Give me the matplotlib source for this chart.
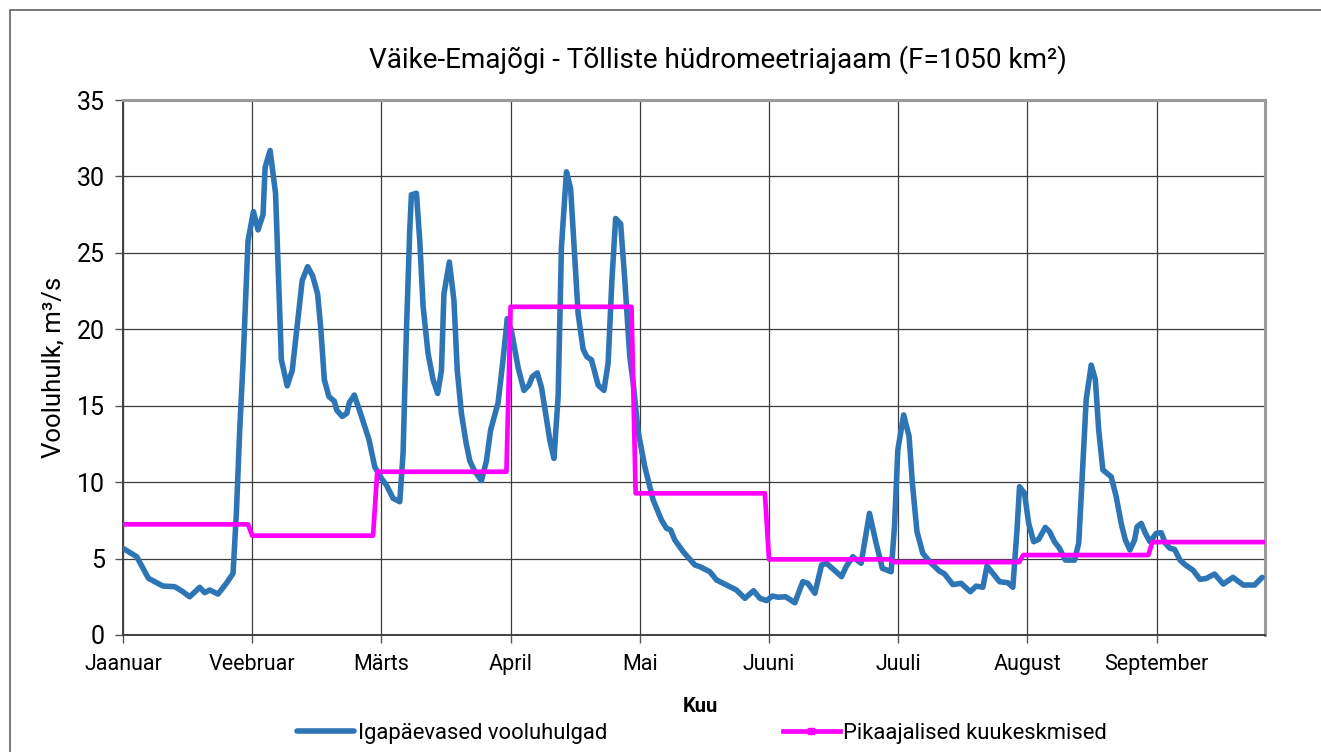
import matplotlib
matplotlib.use("Agg")
import matplotlib.pyplot as plt
from matplotlib.patches import Rectangle
from matplotlib.lines import Line2D

plt.rcParams['font.family'] = ['Roboto', 'DejaVu Sans']

# ---- data ----
month_labels = ["Jaanuar", "Veebruar", "Märts", "April", "Mai", "Juuni", "Juuli", "August", "September"]
month_ticks = [0, 31, 62, 93, 124, 155, 186, 217, 248]
x_end = 274

# long-term monthly means (start index of each month on the chart, value)
mean_starts = [0, 31, 61, 93, 123, 155, 185, 216, 247]
mean_values = [7.24, 6.50, 10.68, 21.47, 9.27, 4.95, 4.77, 5.23, 6.08]

# daily discharge
daily_x = [0, 3.3, 6.1, 9.6, 12.4, 14.4, 16, 18.4, 19.6, 20.8, 22.8, 24.8, 26.4, 27.2, 28, 28.8,
           30, 31.3, 32.4, 33.6, 34.1, 35.3, 36.6, 38, 39.4, 40.6, 43, 44.3, 45.5, 46.7, 47.5,
           48.3, 49.4, 50.7, 51.3, 52.6, 53.7, 54.3, 55.5, 57.1, 59, 60.4, 62, 63.2, 64.8, 66.4,
           67.2, 68, 68.8, 69.2, 70.4, 71.2, 72, 73.2, 74.4, 75.5, 76.4, 77, 78.3, 79.4, 80.2,
           81.2, 82.3, 83.2, 84.4, 86, 87.2, 88.2, 90, 91.1, 92.2, 93.2, 94.8, 96.2, 97.4, 98.2,
           99.4, 100.4, 101.4, 102.4, 103.4, 104.4, 105.2, 106.4, 107.4, 108.4, 109.2, 110.4,
           111.3, 112.4, 114, 115.4, 116.4, 117.3, 118.2, 119.4, 120.4, 121.6, 122.4, 123.6,
           125.2, 127.2, 129.2, 130.4, 131.4, 132.4, 134.4, 137.2, 138.4, 140.8, 142.4, 144.8,
           147.2, 149.2, 151.3, 152.8, 154.4, 155.8, 157.2, 159, 161.2, 163.1, 164.3, 166,
           167.6, 168.8, 172.4, 173.5, 175.1, 177.1, 179.1, 180.7, 182.2, 184.3, 185.1, 185.9,
           187.3, 188.6, 189.4, 190.5, 191.9, 193.9, 195.9, 197.1, 199.1, 201.1, 203.3, 204.7,
           206.3, 207.3, 208.7, 210.3, 212.3, 213.5, 214.5, 215.1, 216.3, 217.3, 218.5, 219.7,
           221.3, 222.3, 223.5, 224.7, 226.1, 228.3, 229.3, 229.9, 231.1, 232.3, 233.3, 234.1,
           235.1, 237.1, 238.3, 239.5, 240.5, 241.6, 242.7, 243.3, 244.3, 245.3, 246.4, 247.9,
           249.1, 250.1, 251.2, 252.3, 253.6, 254.9, 256.7, 258.4, 259.9, 261.9, 264, 266.3,
           268.8, 271.5, 273.3]
daily_q = [5.67, 5.12, 3.71, 3.2, 3.16, 2.83, 2.5, 3.12, 2.77, 2.94, 2.68, 3.38, 4.03, 7.96, 13.4, 17.8,
           25.8, 27.7, 26.5, 27.5, 30.6, 31.7, 28.9, 18.0, 16.3, 17.3, 23.2, 24.1, 23.5, 22.3, 19.9,
           16.7, 15.6, 15.3, 14.7, 14.3, 14.5, 15.2, 15.7, 14.4, 12.8, 11.0, 10.25, 9.81, 8.94, 8.72,
           11.9, 19.9, 26.5, 28.8, 28.9, 25.8, 21.5, 18.4, 16.7, 15.8, 17.3, 22.3, 24.4, 21.9, 17.3,
           14.5, 12.6, 11.4, 10.7, 10.1, 11.4, 13.4, 15.2, 17.8, 20.7, 19.9, 17.5, 16.0, 16.35, 16.9,
           17.15, 16.2, 14.5, 12.75, 11.55, 15.6, 25.4, 30.3, 29.2, 24.7, 21.0, 18.7,
           18.2, 18.0, 16.35, 16.0, 17.8, 23.2, 27.25, 26.9, 23.2, 18.2, 16.5, 13.3,
           11.0, 8.83, 7.52, 6.98, 6.87, 6.21, 5.45, 4.58, 4.47, 4.14, 3.6, 3.27,
           2.94, 2.4, 2.9, 2.4, 2.25, 2.55, 2.47, 2.5, 2.11, 3.49, 3.38, 2.73,
           4.58, 4.69, 3.82, 4.47, 5.12, 4.69, 7.96, 6.0, 4.36, 4.14, 7.08, 12.1,
           14.4, 13.0, 9.92, 6.76, 5.34, 4.69, 4.18, 4.0, 3.3, 3.38, 2.83, 3.2,
           3.12, 4.51, 4.03, 3.49, 3.42, 3.12, 6.87, 9.7, 9.27, 7.3, 6.1, 6.26,
           7.04, 6.76, 6.1, 5.67, 4.9, 4.9, 6.0, 9.05, 15.4, 17.66, 16.7, 13.4,
           10.8, 10.35, 9.05, 7.3, 6.21, 5.56, 6.21, 7.08, 7.3, 6.65, 6.1, 6.65,
           6.69, 6.0, 5.67, 5.6, 4.9, 4.58, 4.25, 3.64, 3.7, 3.99, 3.33, 3.77,
           3.27, 3.27, 3.77]

# ---- figure ----
W, H = 1321, 752
fig = plt.figure(figsize=(W / 100, H / 100), dpi=100)
ax = fig.add_axes([123 / W, 1 - 635 / H, (1265 - 123) / W, (635 - 100) / H])

# monthly means as a stepped line
px, py = [], []
bounds = mean_starts[1:] + [x_end]
for s, e, v in zip(mean_starts, bounds, mean_values):
    px += [s, (e - 1) if e != x_end else e]
    py += [v, v]

ax.plot(daily_x, daily_q, color='#2e75b6', lw=4.0, solid_joinstyle='round',
        solid_capstyle='round', zorder=3)
ax.plot(px, py, color='#ff00ff', lw=3.4, zorder=4)

ax.set_xlim(0, x_end)
ax.set_ylim(0, 35)
ax.set_yticks(range(0, 36, 5))
ax.set_xticks(month_ticks)
ax.set_xticklabels(month_labels)
ax.grid(True, color='#3c3c3c', lw=0.9)
ax.set_axisbelow(True)
ax.tick_params(axis='both', length=6, width=1, color='#555555')
ax.tick_params(axis='x', pad=8, labelsize=15.5)
ax.tick_params(axis='y', pad=7, labelsize=18)
for side in ['left', 'bottom']:
    ax.spines[side].set_color('#404040')
    ax.spines[side].set_linewidth(1.4)
for side in ['top', 'right']:
    ax.spines[side].set_color('#9a9a9a')
    ax.spines[side].set_linewidth(2.2)

ax.set_ylabel('Vooluhulk, m³/s', fontsize=18.5, labelpad=8)
fig.text(700 / W, 1 - 706 / H, 'Kuu', fontsize=14.5, fontweight='bold', ha='center', va='center')
fig.text(718 / W, 1 - 60 / H, 'Väike-Emajõgi - Tõlliste hüdromeetriajaam (F=1050 km²)',
         fontsize=20.1, ha='center', va='center')

handles = [Line2D([], [], color='#2e75b6', lw=4.0, solid_capstyle='round'),
           Line2D([], [], color='#ff00ff', lw=3.4, marker='s', markersize=5)]
fig.legend(handles, ['Igapäevased vooluhulgad', 'Pikaajalised kuukeskmised'],
           loc='center', bbox_to_anchor=(702 / W, 1 - 733 / H), ncol=2, frameon=False,
           fontsize=15.8, handlelength=2.6, handletextpad=0.15, columnspacing=8.0)

fig.patches.append(Rectangle((10 / W, -0.1), 1.2, (1 - 10 / H) + 0.1, transform=fig.transFigure,
                             fill=False, edgecolor='#6e6e6e', lw=1.3))

fig.savefig('out.png', dpi=100, facecolor='white')
